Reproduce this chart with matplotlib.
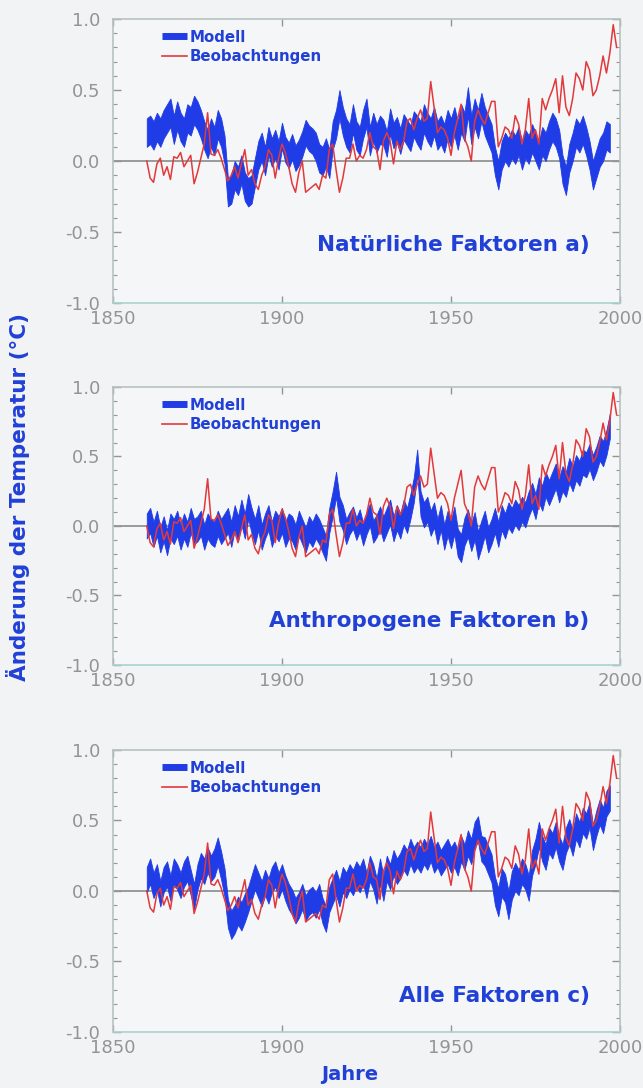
import numpy as np
import matplotlib.pyplot as plt
from matplotlib.lines import Line2D
from matplotlib.ticker import MultipleLocator

plt.rcParams['axes.unicode_minus'] = False
plt.rcParams['font.family'] = 'DejaVu Sans'

# ---------- data ----------
obs_years = np.arange(1860, 2000)
model_years = np.arange(1860, 1998)

# observed global temperature anomaly (degC), 1860-1999
beobachtungen = [
    0.00, -0.12, -0.15, -0.02, 0.02, -0.10, -0.04, -0.13, 0.03, 0.02,
    0.06, -0.04, 0.00, 0.04, -0.16, -0.08, 0.02, 0.12, 0.34, 0.05,
    0.04, 0.08, 0.02, -0.06, -0.14, -0.10, -0.04, -0.12, -0.02, 0.08,
    -0.10, -0.06, -0.16, -0.20, -0.10, -0.04, 0.08, 0.04, -0.12, 0.02,
    0.12, 0.06, -0.04, -0.16, -0.22, -0.08, 0.00, -0.22, -0.20, -0.18,
    -0.16, -0.20, -0.10, -0.12, 0.08, 0.12, -0.06, -0.22, -0.12, 0.02,
    0.02, 0.12, 0.00, 0.04, 0.02, 0.08, 0.20, 0.10, 0.08, -0.06,
    0.14, 0.20, 0.14, -0.02, 0.14, 0.08, 0.14, 0.28, 0.30, 0.22,
    0.30, 0.36, 0.28, 0.30, 0.56, 0.38, 0.20, 0.24, 0.22, 0.16,
    0.04, 0.20, 0.30, 0.40, 0.16, 0.10, 0.00, 0.28, 0.36, 0.30,
    0.26, 0.34, 0.42, 0.42, 0.10, 0.16, 0.24, 0.22, 0.16, 0.32,
    0.26, 0.12, 0.22, 0.44, 0.16, 0.22, 0.12, 0.44, 0.36, 0.44,
    0.50, 0.58, 0.34, 0.60, 0.38, 0.32, 0.44, 0.62, 0.58, 0.50,
    0.70, 0.64, 0.46, 0.50, 0.60, 0.74, 0.62, 0.76, 0.96, 0.80,
]

# model ensemble centre, 1860-1997
modell_natuerlich = [
    0.20, 0.22, 0.18, 0.24, 0.20, 0.26, 0.30, 0.34, 0.22, 0.32,
    0.24, 0.20, 0.30, 0.28, 0.36, 0.32, 0.26, 0.18, 0.12, 0.20,
    0.14, 0.26, 0.20, 0.08, -0.22, -0.20, -0.10, -0.14, -0.06, -0.18,
    -0.22, -0.20, -0.08, 0.04, 0.10, 0.00, 0.14, 0.06, 0.12, 0.04,
    0.18, 0.08, 0.04, 0.10, 0.02, 0.06, 0.12, 0.20, 0.16, 0.14,
    0.10, 0.02, 0.00, 0.06, -0.02, 0.18, 0.26, 0.40, 0.28, 0.20,
    0.16, 0.30, 0.18, 0.14, 0.26, 0.34, 0.14, 0.24, 0.16, 0.22,
    0.20, 0.12, 0.28, 0.18, 0.22, 0.14, 0.24, 0.20, 0.16, 0.26,
    0.22, 0.18, 0.30, 0.24, 0.20, 0.28, 0.18, 0.22, 0.16, 0.26,
    0.20, 0.28, 0.18, 0.30, 0.24, 0.42, 0.22, 0.34, 0.26, 0.38,
    0.28, 0.22, 0.16, 0.00, -0.10, 0.04, 0.10, 0.06, 0.12, 0.08,
    0.14, 0.04, 0.12, 0.08, 0.16, 0.10, 0.04, 0.14, 0.10, 0.18,
    0.24, 0.20, 0.12, -0.06, -0.14, 0.02, 0.10, 0.20, 0.16, 0.22,
    0.14, 0.04, -0.10, -0.02, 0.06, 0.10, 0.18, 0.16,
]
modell_anthropogen = [
    0.00, 0.04, -0.06, 0.02, -0.10, -0.02, -0.12, 0.00, -0.04, 0.02,
    -0.08, 0.00, -0.06, 0.04, -0.04, -0.02, 0.02, -0.08, 0.00, -0.04,
    -0.06, 0.02, -0.04, 0.00, 0.04, -0.06, 0.06, -0.02, 0.10, 0.00,
    0.14, 0.04, -0.04, 0.06, -0.08, 0.00, 0.06, -0.06, 0.02, -0.02,
    0.04, -0.06, 0.00, -0.02, -0.08, 0.02, -0.04, -0.10, -0.02, -0.06,
    0.00, -0.04, -0.10, -0.16, 0.04, 0.16, 0.30, 0.12, 0.06, -0.04,
    0.02, 0.06, -0.02, 0.04, -0.06, 0.02, 0.08, -0.04, 0.00, 0.06,
    -0.02, 0.04, 0.10, -0.02, 0.06, 0.00, 0.10, 0.04, 0.14, 0.26,
    0.46, 0.16, 0.08, 0.12, 0.02, 0.08, -0.04, 0.06, -0.08, 0.02,
    -0.06, 0.04, -0.12, -0.16, -0.04, 0.02, -0.08, 0.00, -0.14, -0.06,
    0.02, -0.10, -0.04, 0.04, -0.06, 0.06, 0.00, 0.08, 0.04, 0.10,
    0.06, 0.12, 0.08, 0.16, 0.22, 0.14, 0.26, 0.20, 0.30, 0.24,
    0.30, 0.36, 0.26, 0.34, 0.30, 0.40, 0.34, 0.42, 0.38, 0.46,
    0.44, 0.50, 0.42, 0.48, 0.56, 0.52, 0.60, 0.72,
]
modell_alle = [
    0.08, 0.14, 0.04, 0.10, -0.02, 0.08, 0.12, 0.02, 0.14, 0.10,
    0.04, 0.12, 0.16, 0.06, -0.04, 0.10, 0.18, 0.14, 0.22, 0.16,
    0.20, 0.28, 0.18, 0.06, -0.16, -0.24, -0.20, -0.14, -0.18, -0.12,
    -0.06, 0.02, 0.10, 0.04, -0.02, 0.06, 0.00, 0.08, 0.12, 0.04,
    0.10, 0.02, -0.04, -0.08, -0.14, -0.10, -0.04, -0.12, -0.08, -0.06,
    -0.10, -0.04, -0.14, -0.20, -0.06, 0.00, 0.06, -0.02, 0.08, 0.04,
    0.10, 0.06, 0.12, 0.08, 0.14, 0.04, 0.16, 0.10, 0.00, 0.14,
    0.02, 0.16, 0.10, 0.20, 0.14, 0.18, 0.24, 0.20, 0.28, 0.22,
    0.26, 0.22, 0.28, 0.24, 0.30, 0.22, 0.26, 0.20, 0.24, 0.28,
    0.22, 0.26, 0.20, 0.30, 0.24, 0.34, 0.28, 0.40, 0.44, 0.30,
    0.28, 0.22, 0.16, 0.00, -0.08, 0.06, 0.02, -0.10, 0.04, 0.10,
    0.06, 0.14, 0.10, 0.02, 0.20, 0.28, 0.40, 0.30, 0.24, 0.36,
    0.32, 0.40, 0.30, 0.24, 0.36, 0.42, 0.34, 0.46, 0.40, 0.50,
    0.46, 0.54, 0.38, 0.48, 0.56, 0.50, 0.62, 0.66,
]

# ensemble half-spread per decade (1860s ... 1990s)
spread_natuerlich = [0.10, 0.10, 0.10, 0.10, 0.09, 0.10, 0.10, 0.09, 0.10, 0.10, 0.10, 0.10, 0.10, 0.10]
spread_anthropogen = [0.09, 0.09, 0.09, 0.09, 0.09, 0.09, 0.08, 0.09, 0.09, 0.10, 0.09, 0.09, 0.09, 0.09]
spread_alle = [0.09, 0.09, 0.10, 0.09, 0.09, 0.09, 0.09, 0.09, 0.09, 0.09, 0.10, 0.09, 0.09, 0.09]

panels = [
    ('Natürliche Faktoren a)', modell_natuerlich, spread_natuerlich, -0.59),
    ('Anthropogene Faktoren b)', modell_anthropogen, spread_anthropogen, -0.68),
    ('Alle Faktoren c)', modell_alle, spread_alle, -0.745),
]

# ---------- style ----------
BLUE = '#1f3ce6'
TEXT_BLUE = '#2140d6'
RED = '#e2393b'
GREY = '#949494'
FRAME = '#b7c2bf'

fig = plt.figure(figsize=(6.43, 10.88), dpi=100, facecolor='#f2f3f5')

# axes boxes in figure fraction (left, bottom, width, height)
boxes = [
    (0.1757, 0.7215, 0.7885, 0.2610),
    (0.1757, 0.3888, 0.7885, 0.2555),
    (0.1757, 0.0515, 0.7885, 0.2592),
]

for (title, mid, spread, title_y), box in zip(panels, boxes):
    ax = fig.add_axes(box, facecolor='#f5f6f8')
    mid = np.array(mid)
    hw = np.repeat(spread, 10)[:len(mid)]

    ax.axhline(0, color='#8a8a8a', lw=1.2, zorder=1)
    ax.fill_between(model_years, mid - hw, mid + hw, color=BLUE, lw=0.6,
                    edgecolor=BLUE, zorder=2)
    ax.plot(obs_years, beobachtungen, color=RED, lw=1.1, zorder=3)

    ax.set_xlim(1850, 2000)
    ax.set_ylim(-1.0, 1.0)
    ax.set_xticks([1850, 1900, 1950, 2000])
    ax.set_yticks([-1.0, -0.5, 0.0, 0.5, 1.0])
    ax.set_yticklabels(['%.1f' % v for v in [-1.0, -0.5, 0.0, 0.5, 1.0]])
    ax.yaxis.set_minor_locator(MultipleLocator(0.1))
    ax.tick_params(axis='y', which='major', direction='in', length=6,
                   left=True, right=True, color=GREY, width=1.0,
                   labelsize=13, labelcolor=GREY, pad=9)
    ax.tick_params(axis='y', which='minor', direction='in', length=3,
                   left=True, right=True, color=GREY, width=0.8)
    ax.tick_params(axis='x', direction='in', length=5, top=True,
                   color=GREY, width=1.0, labelsize=13, labelcolor=GREY, pad=5)
    for side, spine in ax.spines.items():
        spine.set_color(FRAME)
        spine.set_linewidth(1.2)
    ax.spines['bottom'].set_color('#a9d3cc')

    ax.text(1991, title_y, title, ha='right', va='center', color=TEXT_BLUE,
            fontsize=15.5, fontweight='bold')

    handles = [Line2D([], [], color=BLUE, lw=5, solid_capstyle='butt'),
               Line2D([], [], color=RED, lw=1.2)]
    ax.legend(handles, ['Modell', 'Beobachtungen'], loc='upper left',
              bbox_to_anchor=(0.07, 1.01), frameon=False, handlelength=1.7,
              handletextpad=0.12, labelspacing=0.28, labelcolor=TEXT_BLUE,
              prop={'weight': 'bold', 'size': 10.8})

fig.text(0.028, 0.543, 'Änderung der Temperatur (°C)', rotation=90,
         ha='center', va='center', color=TEXT_BLUE, fontsize=15.5,
         fontweight='bold')
fig.text(0.544, 0.012, 'Jahre', ha='center', va='center', color=TEXT_BLUE,
         fontsize=14, fontweight='bold')

fig.savefig('out.png', dpi=100, facecolor=fig.get_facecolor())
